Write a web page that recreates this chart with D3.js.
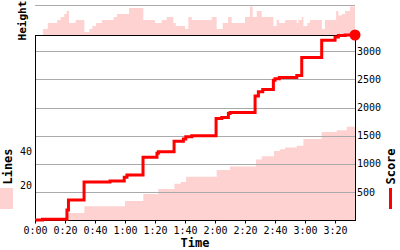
<!DOCTYPE html>
<html>
<head>
<meta charset="utf-8">
<script src="https://cdn.jsdelivr.net/npm/d3@7"></script>
<style>
  body { margin: 0; background: #fff; }
  text { font-family: "DejaVu Sans Mono", monospace; }
</style>
</head>
<body>
<div id="chart"></div>
<script>
// Time axis (minutes)
const endTime = 213.3;
const timeTicks = [0, 20, 40, 60, 80, 100, 120, 140, 160, 180, 200];
const timeLabels = ["0:00", "0:20", "0:40", "1:00", "1:20", "1:40", "2:00", "2:20", "2:40", "3:00", "3:20"];
const scoreTicks = [500, 1000, 1500, 2000, 2500, 3000];
const lineTicks = [20, 40];

// Score steps
const scoreTimes = [0, 5, 21.3, 22.3, 32.7, 50, 59.5, 61.3, 72, 81.3, 82.2, 92.7, 98.9, 100.5, 104.5,
  120.7, 124.5, 128.9, 130, 146.7, 148.9, 151.8, 158.9, 160, 162.9, 174.5, 177.8, 191.1, 200, 202.2, 206.7];
const scoreValues = [0, 15, 180, 355, 675, 692, 760, 800, 1115, 1185, 1215, 1400, 1440, 1480, 1500,
  1805, 1825, 1895, 1910, 2205, 2280, 2320, 2485, 2510, 2535, 2570, 2890, 3195, 3255, 3280, 3290];

// Lines cleared
const linesTimes = [0, 22.2, 32.9, 60, 72.2, 82.2, 92.9, 97.1, 100.7, 121.1, 130, 147.3, 151.1,
  159.3, 163.3, 166.7, 174.5, 178.9, 191.1, 201.1, 207.8];
const linesValues = [0, 4, 8, 11, 15, 18, 21, 22, 25, 29, 31, 35, 37, 40, 41, 42, 43, 47, 51, 52, 54];

// Stack height
const heightTimes = [0, 5.3, 8.5, 14.7, 17.1, 19.5, 21.1, 22.7, 27.1, 32.9, 36.2, 38.2, 40.7, 44.5,
  52.5, 54.7, 62.7, 72.2, 80, 84.5, 87.8, 92.2, 93.8, 100, 102.2, 104.5, 117.8, 121.1, 125.1, 128.7,
  131.1, 140, 143.3, 145.1, 147.8, 151.1, 158.9, 161.1, 162.7, 166.7, 174.5, 175.5, 177.8, 178.9,
  181.5, 183.3, 191.3, 193.3, 200.7, 202.2, 204.5, 206.7, 210];
const heightValues = [0, 4, 8, 10, 12, 14, 16, 8, 10, 2, 4, 6, 8, 10,
  12, 14, 18, 10, 8, 10, 12, 8, 6, 4, 12, 10, 12, 4, 8, 12,
  8, 12, 19, 12, 16, 12, 6, 10, 8, 10, 8, 10, 12, 6,
  8, 10, 4, 10, 16, 13, 14, 16, 19];

const W = 400, H = 250;
const plotL = 35, plotR = 355, plotT = 35, plotB = 220;
const pink = "#ffd2d2", red = "#ff0000", grid = "#aaaaaa";

function toPoints(ts, vs) {
  const pts = ts.map((t, i) => [t, vs[i]]);
  pts.push([endTime, vs[vs.length - 1]]);
  return pts;
}

const x = d3.scaleLinear().domain([0, endTime]).range([plotL, plotR]);
const yScore = d3.scaleLinear().domain([0, d3.max(scoreValues)]).range([plotB, plotT]);
const yLines = d3.scaleLinear().domain([0, 107.2]).range([plotB, plotT]);
const yHeight = d3.scaleLinear().domain([0, 20]).range([plotT, 5]);

const svg = d3.select("#chart").append("svg")
  .attr("width", W).attr("height", H);

svg.append("rect").attr("width", W).attr("height", H).attr("fill", "#fff");

// Height strip
svg.append("path")
  .datum(toPoints(heightTimes, heightValues))
  .attr("fill", pink)
  .attr("d", d3.area().curve(d3.curveStepAfter)
    .x(d => x(d[0])).y0(plotT).y1(d => yHeight(d[1])));

svg.append("line")
  .attr("x1", plotL).attr("x2", plotR)
  .attr("y1", yHeight(20) + 0.5).attr("y2", yHeight(20) + 0.5)
  .attr("stroke", grid);

// Lines area
svg.append("path")
  .datum(toPoints(linesTimes, linesValues))
  .attr("fill", pink)
  .attr("d", d3.area().curve(d3.curveStepAfter)
    .x(d => x(d[0])).y0(plotB).y1(d => yLines(d[1])));

// Gridlines
svg.append("g").selectAll("line")
  .data(scoreTicks)
  .join("line")
  .attr("x1", plotL).attr("x2", plotR)
  .attr("y1", d => Math.round(yScore(d)) + 0.5)
  .attr("y2", d => Math.round(yScore(d)) + 0.5)
  .attr("stroke", grid);

// Frame
svg.append("rect")
  .attr("x", plotL + 0.5).attr("y", plotT + 0.5)
  .attr("width", plotR - plotL).attr("height", plotB - plotT)
  .attr("fill", "none").attr("stroke", "#000");

// Score line
svg.append("path")
  .datum(toPoints(scoreTimes, scoreValues))
  .attr("fill", "none")
  .attr("stroke", red)
  .attr("stroke-width", 3)
  .attr("d", d3.line().curve(d3.curveStepAfter)
    .x(d => x(d[0])).y(d => yScore(d[1])));

svg.append("circle")
  .attr("cx", x(endTime)).attr("cy", yScore(scoreValues[scoreValues.length - 1]))
  .attr("r", 5.5).attr("fill", red);

// Axes
const xAxis = svg.append("g")
  .attr("transform", `translate(0,${plotB + 0.5})`)
  .call(d3.axisBottom(x).tickValues(timeTicks)
    .tickFormat((d, i) => timeLabels[i]).tickSize(3).tickSizeOuter(0));
xAxis.select(".domain").remove();

const rAxis = svg.append("g")
  .attr("transform", `translate(${plotR},0)`)
  .call(d3.axisRight(yScore).tickValues(scoreTicks).tickFormat(d3.format("d"))
    .tickSize(0).tickPadding(2));
rAxis.select(".domain").remove();

const lAxis = svg.append("g")
  .attr("transform", `translate(${plotL},0)`)
  .call(d3.axisLeft(yLines).tickValues(lineTicks).tickFormat(d3.format("d"))
    .tickSize(0).tickPadding(3));
lAxis.select(".domain").remove();

svg.selectAll(".tick text")
  .attr("font-family", "DejaVu Sans Mono")
  .attr("font-size", 10)
  .attr("fill", "#000");
svg.selectAll(".tick line").attr("stroke", "#000");

// Titles
svg.append("text")
  .attr("x", (plotL + plotR) / 2).attr("y", 247)
  .attr("text-anchor", "middle")
  .attr("font-size", 12).attr("font-weight", "bold")
  .text("Time");

svg.append("text")
  .attr("transform", "translate(26,20.5) rotate(-90)")
  .attr("text-anchor", "middle")
  .attr("font-size", 11).attr("font-weight", "bold")
  .text("Height");

svg.append("text")
  .attr("transform", "translate(12,166.5) rotate(-90)")
  .attr("text-anchor", "middle")
  .attr("font-size", 12).attr("font-weight", "bold")
  .text("Lines");

svg.append("text")
  .attr("transform", "translate(395,166.5) rotate(-90)")
  .attr("text-anchor", "middle")
  .attr("font-size", 12).attr("font-weight", "bold")
  .text("Score");

// Legend marks
svg.append("rect")
  .attr("x", 0).attr("y", 188).attr("width", 13).attr("height", 21)
  .attr("fill", pink);

svg.append("rect")
  .attr("x", 389).attr("y", 188).attr("width", 3).attr("height", 21)
  .attr("fill", red);
</script>
</body>
</html>
